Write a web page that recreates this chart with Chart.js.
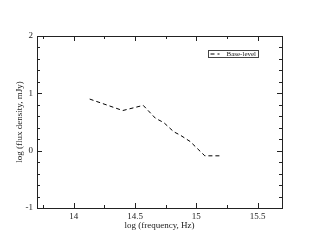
<!DOCTYPE html>
<html lang="en">
<head>
<meta charset="UTF-8">
<title>Base-level</title>
<style>
  html, body { margin: 0; padding: 0; background: #fff; }
  #wrap { width: 317px; height: 245px; }
</style>
</head>
<body>
<div id="wrap"><canvas id="sed"></canvas></div>
<script src="https://cdn.jsdelivr.net/npm/chart.js"></script>
<script>
// data
const logFreq = [14.13, 14.40, 14.567, 14.667, 14.735, 14.816, 14.87, 14.95, 15.07, 15.20];
const logFlux = [0.90, 0.70, 0.79, 0.565, 0.49, 0.33, 0.27, 0.16, -0.09, -0.09];
const seriesName = "Base-level";
const xTicks = [14, 14.5, 15, 15.5];
const yTicks = [-1, 0, 1, 2];
const xMinorStep = 0.25;
const yMinorStep = 0.2;

const serif = "'Liberation Serif', 'DejaVu Serif', serif";
const ink = "#222";

// inward ticks on all four sides + frame + legend box
const frame = {
  id: "frame",
  afterDraw(chart) {
    const c = chart.ctx, a = chart.chartArea;
    const xs = chart.scales.x, ys = chart.scales.y;
    c.save();
    c.strokeStyle = ink;
    c.lineWidth = 1;
    c.strokeRect(Math.round(a.left) + 0.5, Math.round(a.top) + 0.5,
                 Math.round(a.right - a.left), Math.round(a.bottom - a.top));
    c.beginPath();
    const nx = Math.round((xs.max - xs.min) / xMinorStep) + 2;
    const x0 = Math.ceil(xs.min / xMinorStep) * xMinorStep;
    for (let i = 0; i < nx; i++) {
      const v = x0 + i * xMinorStep;
      if (v > xs.max + 1e-9) break;
      const major = xTicks.some(t => Math.abs(t - v) < 1e-6);
      const len = major ? 5 : 3;
      const px = Math.round(xs.getPixelForValue(v)) + 0.5;
      c.moveTo(px, a.bottom); c.lineTo(px, a.bottom - len);
      c.moveTo(px, a.top); c.lineTo(px, a.top + len);
    }
    const ny = Math.round((ys.max - ys.min) / yMinorStep) + 1;
    for (let i = 0; i <= ny; i++) {
      const v = ys.min + i * yMinorStep;
      if (v > ys.max + 1e-9) break;
      const major = yTicks.some(t => Math.abs(t - v) < 1e-6);
      const len = major ? 5 : 3;
      const py = Math.round(ys.getPixelForValue(v)) + 0.5;
      c.moveTo(a.left, py); c.lineTo(a.left + len, py);
      c.moveTo(a.right, py); c.lineTo(a.right - len, py);
    }
    c.stroke();

    // legend
    const ds = chart.data.datasets[0];
    const bx = Math.round(a.right - 74) + 0.5, by = Math.round(a.top + 14) + 0.5;
    const bw = 50, bh = 7;
    c.lineWidth = 1;
    c.strokeStyle = "#444";
    c.strokeRect(bx, by, bw, bh);
    c.strokeStyle = ds.borderColor;
    c.setLineDash(ds.borderDash);
    c.beginPath();
    c.moveTo(bx + 2, by + bh / 2); c.lineTo(bx + 11, by + bh / 2);
    c.stroke();
    c.setLineDash([]);
    c.fillStyle = ink;
    c.font = "7px " + serif;
    c.textBaseline = "middle";
    c.fillText(ds.label, bx + 18, by + bh / 2 + 0.5);
    c.restore();
  }
};

new Chart(document.getElementById("sed"), {
  type: "line",
  data: {
    datasets: [{
      label: seriesName,
      data: logFreq.map((x, i) => ({ x: x, y: logFlux[i] })),
      borderColor: "#000",
      borderWidth: 1,
      borderDash: [4, 3],
      pointRadius: 0,
      fill: false,
      tension: 0
    }]
  },
  options: {
    responsive: true,
    maintainAspectRatio: false,
    animation: false,
    layout: { padding: { top: 36, right: 35, left: 0, bottom: 0 } },
    plugins: { legend: { display: false }, tooltip: { enabled: false } },
    scales: {
      x: {
        type: "linear",
        min: 13.7, max: 15.7,
        afterBuildTicks: s => { s.ticks = xTicks.map(v => ({ value: v })); },
        afterFit: s => { s.height = 37; },
        grid: { display: false, drawTicks: false },
        border: { display: false },
        ticks: { color: ink, font: { family: serif, size: 9 }, padding: 3, maxRotation: 0,
                 callback: v => String(v) },
        title: { display: true, text: "log (frequency, Hz)", color: ink,
                 font: { family: serif, size: 9 }, padding: { top: 0, bottom: 14 } }
      },
      y: {
        type: "linear",
        min: -1, max: 2,
        afterBuildTicks: s => { s.ticks = yTicks.map(v => ({ value: v })); },
        afterFit: s => { s.width = 37; },
        grid: { display: false, drawTicks: false },
        border: { display: false },
        ticks: { color: ink, font: { family: serif, size: 9 }, padding: 4,
                 callback: v => String(v) },
        title: { display: true, text: "log (flux density, mJy)", color: ink,
                 font: { family: serif, size: 9 }, padding: { top: 14, bottom: 0 } }
      }
    }
  },
  plugins: [frame]
});
</script>
</body>
</html>
